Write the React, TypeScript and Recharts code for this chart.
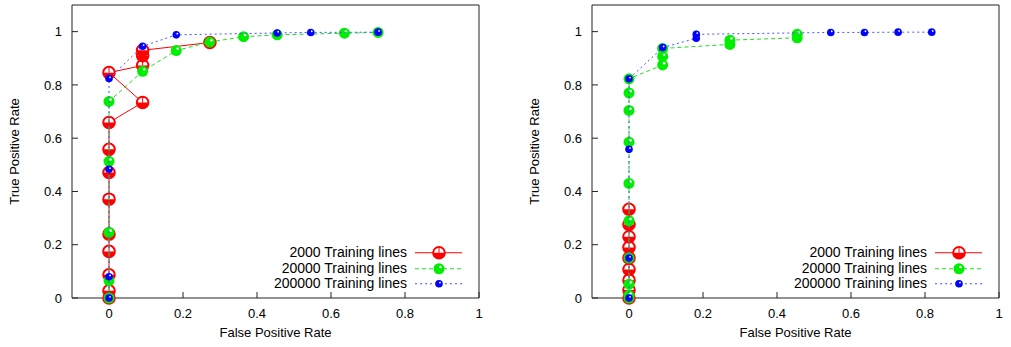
import React from 'react';
import { ScatterChart, Scatter, XAxis, YAxis, Legend } from 'recharts';

const FPR_TICKS = [0, 0.2, 0.4, 0.6, 0.8, 1];
const TPR_TICKS = [0, 0.2, 0.4, 0.6, 0.8, 1];
const SERIES_NAMES = ['2000 Training lines', '20000 Training lines', '200000 Training lines'];

// left panel
const leftFpr2000 = [0, 0, 0, 0, 0, 0, 0, 0, 0, 0.0909, 0, 0.0909, 0.0909, 0.0909, 0.2727];
const leftTpr2000 = [0, 0.027, 0.087, 0.175, 0.24, 0.371, 0.471, 0.558, 0.659, 0.734, 0.846, 0.873, 0.91, 0.93, 0.959];
const leftFpr20000 = [0, 0, 0, 0, 0, 0.0909, 0.1818, 0.2727, 0.3636, 0.4545, 0.6364, 0.7273];
const leftTpr20000 = [0, 0.065, 0.246, 0.513, 0.738, 0.851, 0.929, 0.961, 0.981, 0.988, 0.994, 0.997];
const leftFpr200000 = [0, 0, 0, 0, 0.0909, 0.1818, 0.4545, 0.5454, 0.7273];
const leftTpr200000 = [0, 0.08, 0.483, 0.824, 0.945, 0.988, 0.995, 0.997, 0.998];

// right panel
const rightFpr2000 = [0, 0, 0, 0, 0, 0, 0, 0, 0];
const rightTpr2000 = [0, 0.03, 0.067, 0.107, 0.15, 0.19, 0.23, 0.276, 0.333];
const rightFpr20000 = [0, 0, 0, 0, 0, 0, 0, 0, 0, 0, 0.0909, 0.0909, 0.0909, 0.2727, 0.2727, 0.4545, 0.4545];
const rightTpr20000 = [0, 0.01, 0.052, 0.15, 0.29, 0.43, 0.585, 0.704, 0.77, 0.823, 0.875, 0.907, 0.937, 0.952, 0.968, 0.977, 0.99];
const rightFpr200000 = [0, 0, 0, 0, 0.0909, 0.1818, 0.1818, 0.5454, 0.6364, 0.7273, 0.8182];
const rightTpr200000 = [0, 0.15, 0.558, 0.823, 0.94, 0.975, 0.99, 0.997, 0.997, 0.998, 0.998];

const zip = (xs: number[], ys: number[]) => xs.map((x, i) => ({ x, y: ys[i] }));

const FONT = '"Liberation Sans", Arial, sans-serif';
const RED = '#ff0000';
const GREEN = '#00ee00';
const BLUE = '#0000ff';

const RedDot = ({ cx, cy }: any) => {
  const r = 5.8;
  return (
    <g>
      <circle cx={cx} cy={cy} r={r} fill="#fff" stroke={RED} strokeWidth={2} />
      <path d={`M${cx - r},${cy} A${r},${r} 0 0 0 ${cx + r},${cy} Z`} fill={RED} />
      <line x1={cx} y1={cy - r} x2={cx} y2={cy} stroke={RED} strokeWidth={1} />
    </g>
  );
};

const GreenDot = ({ cx, cy }: any) => (
  <g>
    <circle cx={cx} cy={cy} r={5.5} fill={GREEN} />
    <circle cx={cx + 1.5} cy={cy - 1.8} r={1.3} fill="#fff" />
  </g>
);

const BlueDot = ({ cx, cy }: any) => (
  <g>
    <circle cx={cx} cy={cy} r={3.8} fill={BLUE} />
    <circle cx={cx + 1} cy={cy - 1.2} r={0.9} fill="#fff" />
  </g>
);

const STYLES: Record<string, { color: string; dash?: string; Dot: any; line: string }> = {
  [SERIES_NAMES[0]]: { color: RED, Dot: RedDot, line: RED },
  [SERIES_NAMES[1]]: { color: GREEN, dash: '4 3', Dot: GreenDot, line: '#22dd22' },
  [SERIES_NAMES[2]]: { color: BLUE, dash: '2 3', Dot: BlueDot, line: '#4455ff' },
};

const LegendBox = ({ payload }: any) => (
  <div style={{ fontFamily: FONT, fontSize: 14, color: '#000' }}>
    {(payload || []).map((p: any) => {
      const s = STYLES[p.value];
      return (
        <div key={p.value} style={{ display: 'flex', alignItems: 'center', height: 15.5 }}>
          <span style={{ width: 170, textAlign: 'right', marginRight: 8, lineHeight: '15px' }}>{p.value}</span>
          <svg width={48} height={15.5}>
            <line x1={0} y1={7.75} x2={47} y2={7.75} stroke={s.line} strokeDasharray={s.dash} />
            <s.Dot cx={24} cy={7.75} />
          </svg>
        </div>
      );
    })}
  </div>
);

const YTitle = ({ viewBox }: any) => {
  const x = viewBox.x + 14;
  const y = viewBox.y + viewBox.height / 2;
  return (
    <text x={x} y={y} transform={`rotate(-90 ${x} ${y})`} textAnchor="middle" dominantBaseline="central" fontSize={13} fill="#000" fontFamily={FONT}>
      True Positive Rate
    </text>
  );
};

const tickStyle = { fontSize: 13, fill: '#000', fontFamily: FONT };
const axisStroke = '#222';

const RocPanel = ({ series }: { series: { x: number; y: number }[][] }) => (
  <ScatterChart width={500} height={347} margin={{ top: 4, right: 20, bottom: 0, left: 0 }}>
    <XAxis
      type="number"
      dataKey="x"
      domain={[-0.1, 1]}
      ticks={FPR_TICKS}
      height={49}
      tickSize={-6}
      tickMargin={17}
      stroke={axisStroke}
      tick={tickStyle}
      label={{ value: 'False Positive Rate', position: 'insideBottom', offset: 10, fontSize: 13, fill: '#000', fontFamily: FONT }}
    />
    <XAxis xAxisId="top" orientation="top" type="number" domain={[-0.1, 1]} ticks={FPR_TICKS} height={1} tickSize={-6} tickFormatter={() => ''} stroke={axisStroke} />
    <YAxis
      type="number"
      dataKey="y"
      domain={[0, 1.1]}
      ticks={TPR_TICKS}
      width={72}
      tickSize={-6}
      tickMargin={16}
      stroke={axisStroke}
      tick={tickStyle}
      label={{ content: <YTitle /> }}
    />
    <YAxis yAxisId="right" orientation="right" type="number" domain={[0, 1.1]} ticks={TPR_TICKS} width={1} tickSize={-6} tickFormatter={() => ''} stroke={axisStroke} />
    <Legend
      content={<LegendBox />}
      layout="horizontal"
      verticalAlign="middle"
      align="center"
      wrapperStyle={{ left: 237, top: 245, width: 240 }}
    />
    {series.map((data, i) => {
      const s = STYLES[SERIES_NAMES[i]];
      return (
        <Scatter
          key={SERIES_NAMES[i]}
          name={SERIES_NAMES[i]}
          data={data}
          fill={s.color}
          line={{ stroke: s.line, strokeWidth: 1, strokeDasharray: s.dash }}
          lineType="joint"
          shape={<s.Dot />}
          isAnimationActive={false}
        />
      );
    })}
  </ScatterChart>
);

export default function App() {
  const left = [zip(leftFpr2000, leftTpr2000), zip(leftFpr20000, leftTpr20000), zip(leftFpr200000, leftTpr200000)];
  const right = [zip(rightFpr2000, rightTpr2000), zip(rightFpr20000, rightTpr20000), zip(rightFpr200000, rightTpr200000)];
  return (
    <div style={{ position: 'absolute', top: 0, left: 0, width: 1011, height: 347, background: '#fff' }}>
      <div style={{ position: 'absolute', left: 0, top: 0 }}>
        <RocPanel series={left} />
      </div>
      <div style={{ position: 'absolute', left: 520, top: 0 }}>
        <RocPanel series={right} />
      </div>
    </div>
  );
}
